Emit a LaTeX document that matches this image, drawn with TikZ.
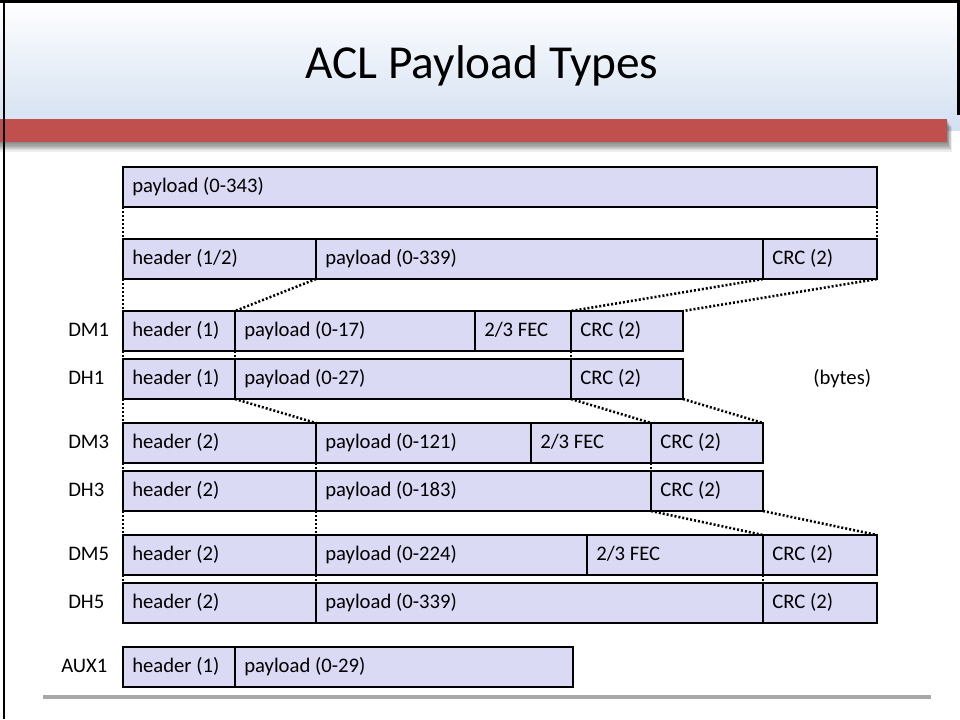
\documentclass[tikz,border=0pt]{standalone}
\usepackage{fontspec}
\setmainfont{Carlito}
\definecolor{boxfill}{RGB}{218,218,244}
\definecolor{barred}{RGB}{192,80,77}
\definecolor{bandblue}{RGB}{211,224,241}
\definecolor{rulegray}{RGB}{168,168,168}
\tikzset{
  cellbox/.style={draw, line width=2.1pt, fill=boxfill, inner sep=0pt, outer sep=0pt, anchor=north west, minimum height=30pt},
  celltext/.style={anchor=base west, inner sep=0pt, font=\fontsize{15.5}{18}\selectfont},
  rowlabel/.style={anchor=base west, inner sep=0pt, font=\fontsize{15.5}{18}\selectfont},
  dotline/.style={line width=1.9pt, dash pattern=on 1.5pt off 1.5pt},
}
% name, x1, x2, ytop, text
\newcommand{\mycell}[5]{%
  \pgfmathsetmacro{\cw}{(#3-#2)*0.75}%
  \node[cellbox, minimum width=\cw pt] (#1) at (#2,#4) {};
  \node[celltext] (#1-t) at ([xshift=6.75pt, yshift=-18.75pt]#1.north west) {#5};
}
\begin{document}
\begin{tikzpicture}[x=0.75pt,y=-0.75pt]
\useasboundingbox (0,0) rectangle (960,719);
\fill[white] (0,0) rectangle (960,719);
% title band
\shade[top color=white, bottom color=bandblue] (0,0) rectangle (960,130);
% bar shadow
\foreach \i in {1,...,8} {
  \fill[black, opacity=0.07] (0,{119+\i}) rectangle ({947+0.6*\i},{142+1.2*\i});
}
\fill[barred] (0,119) rectangle (947,142);
% frame
\draw[line width=2.2pt] (4,0) -- (4,719);
\draw[line width=2.2pt] (0,1.5) -- (960,1.5);
\draw[line width=2.2pt] (958.5,0) -- (958.5,115);
% title
\node[anchor=base, inner sep=0pt, font=\fontsize{35.5}{42}\selectfont] (title) at (482,78) {ACL Payload Types};

% rows
\mycell{r1}{123}{877}{167}{payload (0-343)}

\mycell{r2h}{123}{316}{239}{header (1/2)}
\mycell{r2p}{316}{763}{239}{payload (0-339)}
\mycell{r2c}{763}{877}{239}{CRC (2)}

\mycell{dm1h}{123}{235}{311}{header (1)}
\mycell{dm1p}{235}{475}{311}{payload (0-17)}
\mycell{dm1f}{475}{571}{311}{2/3 FEC}
\mycell{dm1c}{571}{683}{311}{CRC (2)}

\mycell{dh1h}{123}{235}{359}{header (1)}
\mycell{dh1p}{235}{571}{359}{payload (0-27)}
\mycell{dh1c}{571}{683}{359}{CRC (2)}

\mycell{dm3h}{123}{316}{423}{header (2)}
\mycell{dm3p}{316}{531}{423}{payload (0-121)}
\mycell{dm3f}{531}{651}{423}{2/3 FEC}
\mycell{dm3c}{651}{763}{423}{CRC (2)}

\mycell{dh3h}{123}{316}{471}{header (2)}
\mycell{dh3p}{316}{651}{471}{payload (0-183)}
\mycell{dh3c}{651}{763}{471}{CRC (2)}

\mycell{dm5h}{123}{316}{535}{header (2)}
\mycell{dm5p}{316}{587}{535}{payload (0-224)}
\mycell{dm5f}{587}{763}{535}{2/3 FEC}
\mycell{dm5c}{763}{877}{535}{CRC (2)}

\mycell{dh5h}{123}{316}{583}{header (2)}
\mycell{dh5p}{316}{763}{583}{payload (0-339)}
\mycell{dh5c}{763}{877}{583}{CRC (2)}

\mycell{auxh}{123}{235}{647}{header (1)}
\mycell{auxp}{235}{573}{647}{payload (0-29)}

% row labels
\node[rowlabel] (lDM1) at (68,336) {DM1};
\node[rowlabel] (lDH1) at (68,384) {DH1};
\node[rowlabel] (lDM3) at (68,448) {DM3};
\node[rowlabel] (lDH3) at (68,496) {DH3};
\node[rowlabel] (lDM5) at (68,560) {DM5};
\node[rowlabel] (lDH5) at (68,608) {DH5};
\node[rowlabel] (lAUX1) at (61,672) {AUX1};
\node[rowlabel] (bytes) at (813,384) {(bytes)};

% dotted connectors
\draw[dotline] (r1.south west) -- (r2h.north west);
\draw[dotline] (r1.south east) -- (r2c.north east);

\draw[dotline] (r2h.south west) -- (dm1h.north west);
\draw[dotline] (r2h.south east) -- (dm1h.north east);
\draw[dotline] (r2c.south west) -- (dm1c.north west);
\draw[dotline] (r2c.south east) -- (dm1c.north east);

\draw[dotline] (dm1h.south west) -- (dh1h.north west);
\draw[dotline] (dm1h.south east) -- (dh1h.north east);
\draw[dotline] (dm1c.south west) -- (dh1c.north west);

\draw[dotline] (dh1h.south west) -- (dm3h.north west);
\draw[dotline] (dh1h.south east) -- (dm3h.north east);
\draw[dotline] (dh1c.south west) -- (dm3c.north west);
\draw[dotline] (dh1c.south east) -- (dm3c.north east);

\draw[dotline] (dm3h.south west) -- (dh3h.north west);
\draw[dotline] (dm3h.south east) -- (dh3h.north east);
\draw[dotline] (dm3c.south west) -- (dh3c.north west);

\draw[dotline] (dh3h.south west) -- (dm5h.north west);
\draw[dotline] (dh3h.south east) -- (dm5h.north east);
\draw[dotline] (dh3c.south west) -- (dm5c.north west);
\draw[dotline] (dh3c.south east) -- (dm5c.north east);

\draw[dotline] (dm5h.south west) -- (dh5h.north west);
\draw[dotline] (dm5h.south east) -- (dh5h.north east);
\draw[dotline] (dm5c.south west) -- (dh5c.north west);

% bottom rule
\coordinate (ruleL) at (43,697);
\coordinate (ruleR) at (931,697);
\draw[rulegray, line width=3pt] (ruleL) -- (ruleR);
\end{tikzpicture}
\end{document}
